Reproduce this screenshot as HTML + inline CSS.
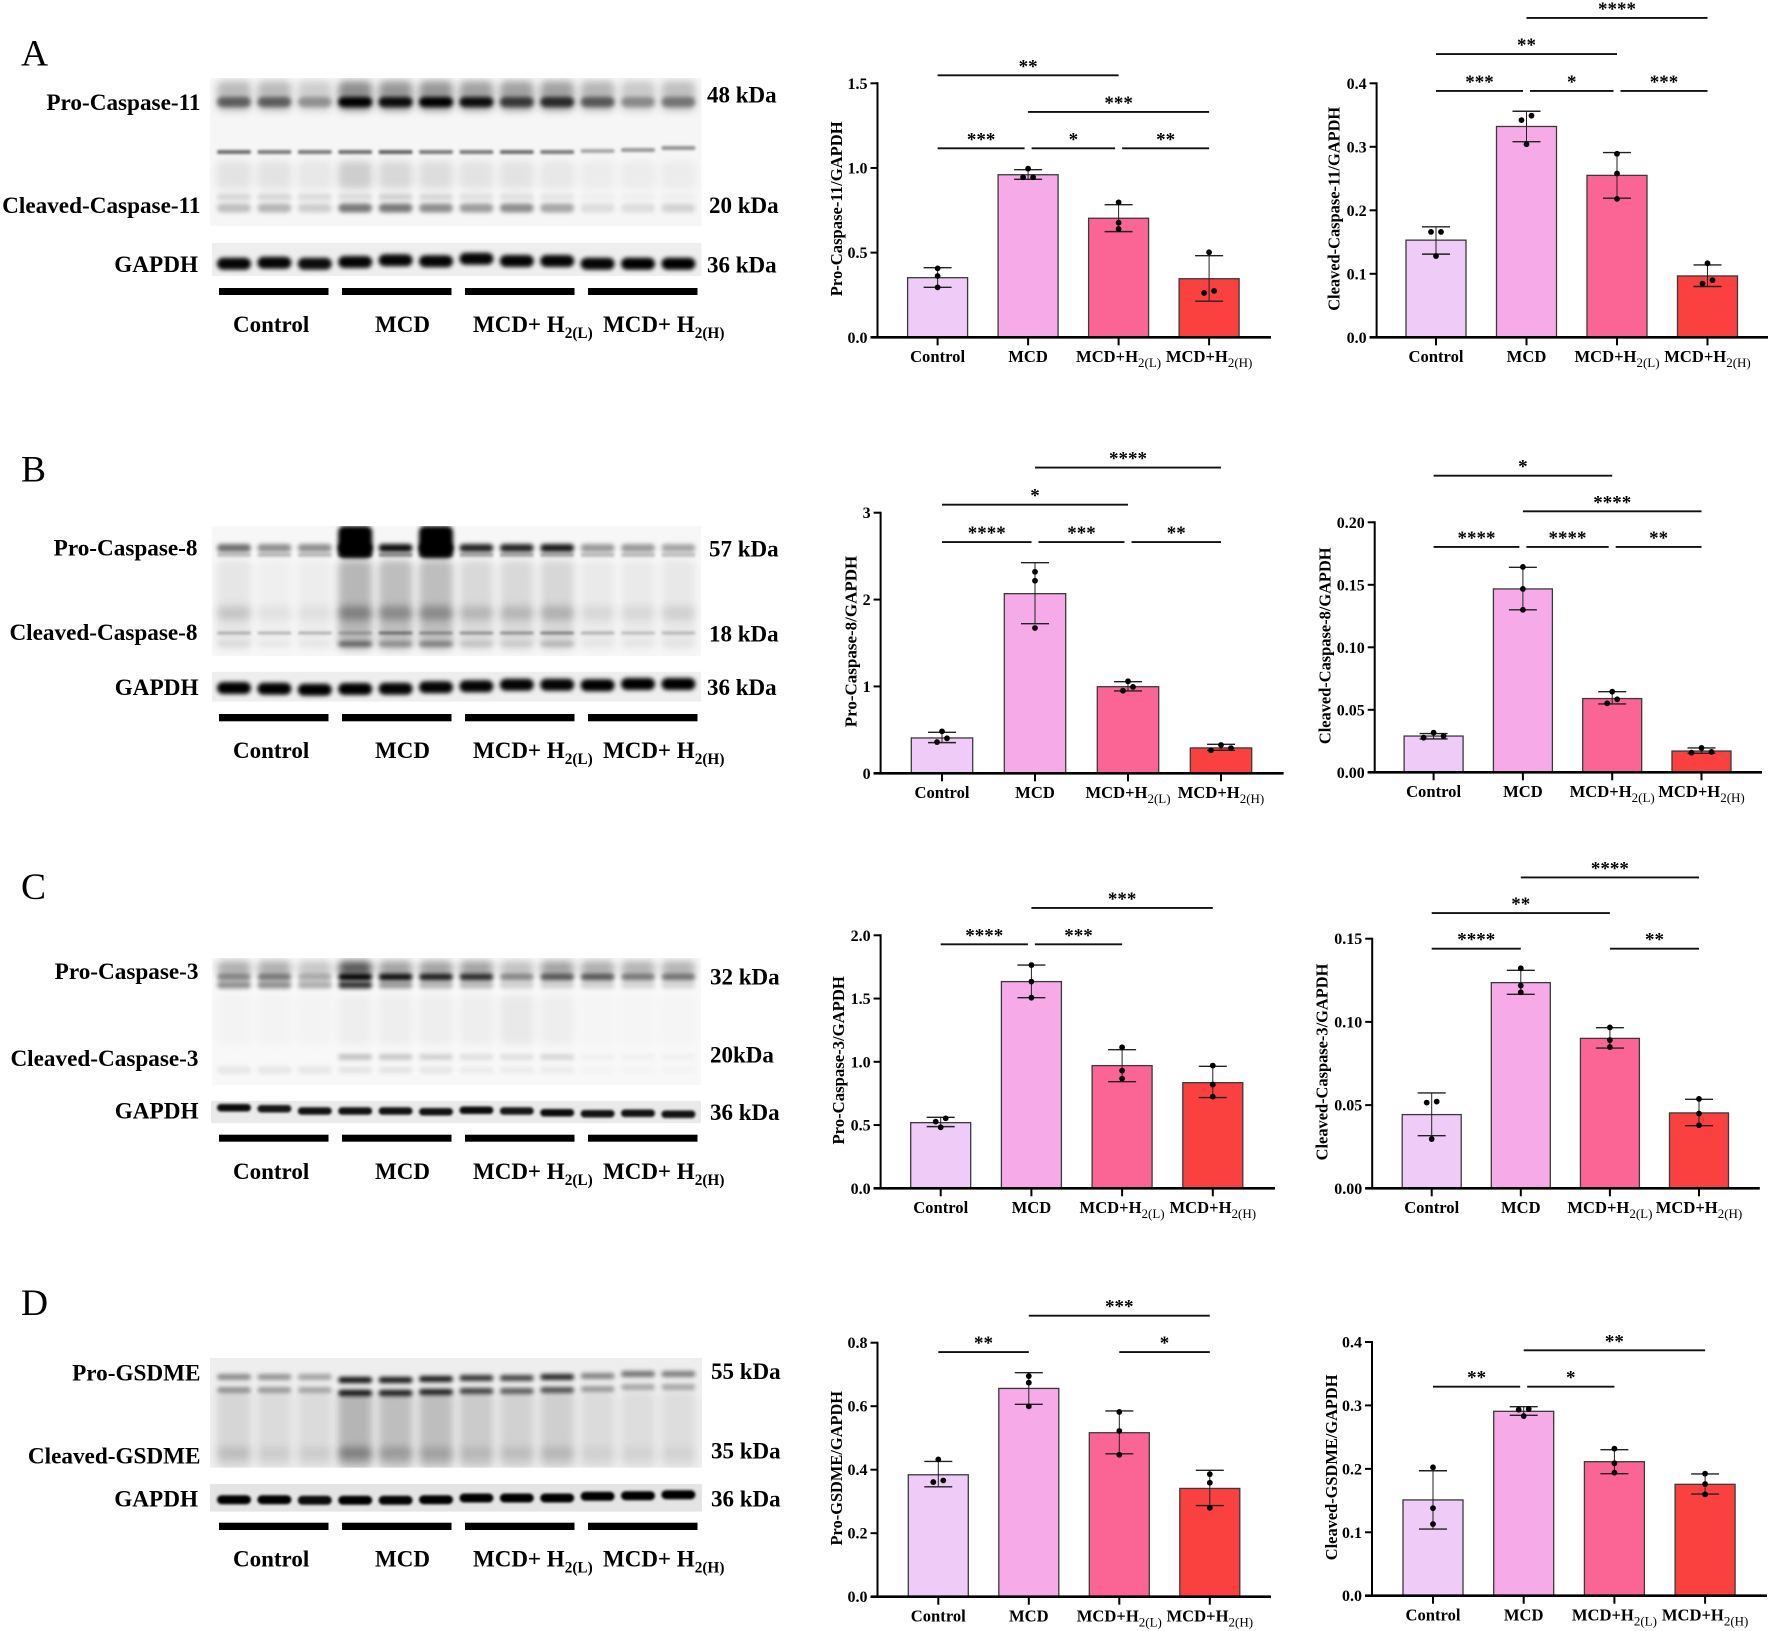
<!DOCTYPE html>
<html lang="en">
<head>
<meta charset="utf-8">
<title>Caspase and GSDME western blots with densitometry</title>
<style>
html,body{margin:0;padding:0;background:#fff;}
svg{display:block;}
text{font-family:"Liberation Serif",serif;fill:#000;}
.lab{font-size:23px;font-weight:bold;}
.lab[text-anchor="end"]{font-size:23.2px;}
.sub{font-size:15.3px;font-weight:bold;}
.letter{font-size:37.5px;font-weight:normal;}
</style>
</head>
<body>
<svg id="fig" xmlns="http://www.w3.org/2000/svg" width="1772" height="1631" viewBox="0 0 1772 1631">
<defs>
<filter id="b1" x="-30%" y="-100%" width="160%" height="300%"><feGaussianBlur stdDeviation="1.2"/></filter>
<filter id="b2" x="-30%" y="-150%" width="160%" height="400%"><feGaussianBlur stdDeviation="2.2"/></filter>
<filter id="b4" x="-40%" y="-100%" width="180%" height="300%"><feGaussianBlur stdDeviation="4"/></filter>
</defs>
<rect width="1772" height="1631" fill="#fff"/>

<g id="blots"></g>
<g id="plots"></g>

<g>
<text class="letter" x="21" y="65.7">A</text>
<text class="lab" x="200.5" y="110" text-anchor="end">Pro-Caspase-11</text>
<text class="lab" x="200.5" y="213" text-anchor="end">Cleaved-Caspase-11</text>
<text class="lab" x="198" y="272" text-anchor="end">GAPDH</text>
<text class="lab" x="707" y="102.7">48 kDa</text>
<text class="lab" x="709" y="213">20 kDa</text>
<text class="lab" x="707" y="272.7">36 kDa</text>
<text class="lab" x="233" y="332">Control</text>
<text class="lab" x="375" y="332">MCD</text>
<text class="lab" x="473" y="332">MCD+ H<tspan class="sub" dy="6">2(L)</tspan></text>
<text class="lab" x="603" y="332">MCD+ H<tspan class="sub" dy="6">2(H)</tspan></text>
</g>

<g>
<text class="letter" x="21" y="481.7">B</text>
<text class="lab" x="197.5" y="555.7" text-anchor="end">Pro-Caspase-8</text>
<text class="lab" x="197.5" y="640" text-anchor="end">Cleaved-Caspase-8</text>
<text class="lab" x="198.5" y="695" text-anchor="end">GAPDH</text>
<text class="lab" x="709" y="556.7">57 kDa</text>
<text class="lab" x="709" y="641.7">18 kDa</text>
<text class="lab" x="707" y="695">36 kDa</text>
<text class="lab" x="233" y="758">Control</text>
<text class="lab" x="375" y="758">MCD</text>
<text class="lab" x="473" y="758">MCD+ H<tspan class="sub" dy="6">2(L)</tspan></text>
<text class="lab" x="603" y="758">MCD+ H<tspan class="sub" dy="6">2(H)</tspan></text>
</g>

<g>
<text class="letter" x="21" y="899">C</text>
<text class="lab" x="198.5" y="979" text-anchor="end">Pro-Caspase-3</text>
<text class="lab" x="198.5" y="1066" text-anchor="end">Cleaved-Caspase-3</text>
<text class="lab" x="198.5" y="1118.3" text-anchor="end">GAPDH</text>
<text class="lab" x="710" y="984.3">32 kDa</text>
<text class="lab" x="710" y="1062.3">20kDa</text>
<text class="lab" x="710" y="1120">36 kDa</text>
<text class="lab" x="233" y="1179">Control</text>
<text class="lab" x="375" y="1179">MCD</text>
<text class="lab" x="473" y="1179">MCD+ H<tspan class="sub" dy="6">2(L)</tspan></text>
<text class="lab" x="603" y="1179">MCD+ H<tspan class="sub" dy="6">2(H)</tspan></text>
</g>

<g>
<text class="letter" x="21" y="1315">D</text>
<text class="lab" x="200.5" y="1380.7" text-anchor="end">Pro-GSDME</text>
<text class="lab" x="200.5" y="1463.3" text-anchor="end">Cleaved-GSDME</text>
<text class="lab" x="198" y="1506.7" text-anchor="end">GAPDH</text>
<text class="lab" x="711" y="1379">55 kDa</text>
<text class="lab" x="711" y="1458.3">35 kDa</text>
<text class="lab" x="711" y="1506.7">36 kDa</text>
<text class="lab" x="233" y="1566.7">Control</text>
<text class="lab" x="375" y="1566.7">MCD</text>
<text class="lab" x="473" y="1566.7">MCD+ H<tspan class="sub" dy="6">2(L)</tspan></text>
<text class="lab" x="603" y="1566.7">MCD+ H<tspan class="sub" dy="6">2(H)</tspan></text>
</g>
</svg>

<script>
/* ---------- shared categories ---------- */
const categories = ['Control', 'MCD', 'MCD+H', 'MCD+H'];
const categorySubs = ['', '', '2(L)', '2(H)'];
const barColors = ['#EFCBF8', '#F6ABE8', '#FB6596', '#FB4040'];

/* ---------- Pro-Caspase-11 ---------- */
const proCasp11Means = [0.352, 0.96, 0.703, 0.346];
const proCasp11Upper = [0.411, 0.99, 0.783, 0.482];
const proCasp11Lower = [0.295, 0.933, 0.624, 0.213];
const proCasp11Dots = [[0.407, 0.362, 0.295], [0.996, 0.945, 0.945], [0.797, 0.677, 0.64], [0.502, 0.274, 0.262]];
const proCasp11Ticks = [0, 0.5, 1, 1.5];
const proCasp11TickLabels = ['0.0', '0.5', '1.0', '1.5'];
const proCasp11Sig = [[0, 2, 1.547, '**'], [1, 3, 1.331, '***'], [0, 1, 1.116, '***'], [1, 2, 1.116, '*'], [2, 3, 1.116, '**']];

/* ---------- Cleaved-Caspase-11 ---------- */
const clCasp11Means = [0.153, 0.332, 0.255, 0.0966];
const clCasp11Upper = [0.174, 0.356, 0.291, 0.114];
const clCasp11Lower = [0.131, 0.308, 0.219, 0.08];
const clCasp11Dots = [[0.166, 0.166, 0.128], [0.349, 0.342, 0.304], [0.289, 0.258, 0.218], [0.1165, 0.09, 0.0845]];
const clCasp11Ticks = [0, 0.1, 0.2, 0.3, 0.4];
const clCasp11TickLabels = ['0.0', '0.1', '0.2', '0.3', '0.4'];
const clCasp11Sig = [[1, 3, 0.503, '****'], [0, 2, 0.446, '**'], [0, 1, 0.388, '***'], [1, 2, 0.388, '*'], [2, 3, 0.388, '***']];

/* ---------- Pro-Caspase-8 ---------- */
const proCasp8Means = [0.407, 2.068, 0.997, 0.292];
const proCasp8Upper = [0.472, 2.425, 1.055, 0.334];
const proCasp8Lower = [0.353, 1.722, 0.948, 0.265];
const proCasp8Dots = [[0.483, 0.403, 0.36], [2.32, 2.217, 1.673], [1.059, 0.994, 0.951], [0.326, 0.29, 0.265]];
const proCasp8Ticks = [0, 1, 2, 3];
const proCasp8TickLabels = ['0', '1', '2', '3'];
const proCasp8Sig = [[1, 3, 3.52, '****'], [0, 2, 3.092, '*'], [0, 1, 2.662, '****'], [1, 2, 2.662, '***'], [2, 3, 2.662, '**']];

/* ---------- Cleaved-Caspase-8 ---------- */
const clCasp8Means = [0.029, 0.1467, 0.059, 0.017];
const clCasp8Upper = [0.031, 0.164, 0.0645, 0.0195];
const clCasp8Lower = [0.0267, 0.13, 0.0547, 0.0152];
const clCasp8Dots = [[0.0317, 0.029, 0.0277], [0.1643, 0.1467, 0.13], [0.0645, 0.0584, 0.0552], [0.0195, 0.0163, 0.0157]];
const clCasp8Ticks = [0, 0.05, 0.1, 0.15, 0.2];
const clCasp8TickLabels = ['0.00', '0.05', '0.10', '0.15', '0.20'];
const clCasp8Sig = [[0, 2, 0.2373, '*'], [1, 3, 0.2088, '****'], [0, 1, 0.1803, '****'], [1, 2, 0.1803, '****'], [2, 3, 0.1803, '**']];

/* ---------- Pro-Caspase-3 ---------- */
const proCasp3Means = [0.519, 1.634, 0.97, 0.835];
const proCasp3Upper = [0.561, 1.765, 1.096, 0.964];
const proCasp3Lower = [0.4875, 1.507, 0.843, 0.717];
const proCasp3Dots = [[0.553, 0.527, 0.482], [1.765, 1.634, 1.507], [1.115, 0.93, 0.867], [0.97, 0.82, 0.725]];
const proCasp3Ticks = [0, 0.5, 1, 1.5, 2];
const proCasp3TickLabels = ['0.0', '0.5', '1.0', '1.5', '2.0'];
const proCasp3Sig = [[1, 3, 2.216, '***'], [0, 1, 1.929, '****'], [1, 2, 1.929, '***']];

/* ---------- Cleaved-Caspase-3 ---------- */
const clCasp3Means = [0.0443, 0.1236, 0.0901, 0.0453];
const clCasp3Upper = [0.0573, 0.131, 0.0965, 0.0535];
const clCasp3Lower = [0.0316, 0.1166, 0.0843, 0.0376];
const clCasp3Dots = [[0.0521, 0.0515, 0.0296], [0.1322, 0.1218, 0.1178], [0.0967, 0.0891, 0.0849], [0.0537, 0.0449, 0.0379]];
const clCasp3Ticks = [0, 0.05, 0.1, 0.15];
const clCasp3TickLabels = ['0.00', '0.05', '0.10', '0.15'];
const clCasp3Sig = [[1, 3, 0.1868, '****'], [0, 2, 0.1654, '**'], [0, 1, 0.144, '****'], [2, 3, 0.144, '**']];

/* ---------- Pro-GSDME ---------- */
const proGsdmeMeans = [0.384, 0.656, 0.5165, 0.341];
const proGsdmeUpper = [0.426, 0.7055, 0.585, 0.398];
const proGsdmeLower = [0.346, 0.606, 0.45, 0.287];
const proGsdmeDots = [[0.4325, 0.366, 0.361], [0.695, 0.674, 0.5995], [0.582, 0.522, 0.447], [0.386, 0.359, 0.28]];
const proGsdmeTicks = [0, 0.2, 0.4, 0.6, 0.8];
const proGsdmeTickLabels = ['0.0', '0.2', '0.4', '0.6', '0.8'];
const proGsdmeSig = [[1, 3, 0.885, '***'], [0, 1, 0.7706, '**'], [2, 3, 0.7706, '*']];

/* ---------- Cleaved-GSDME ---------- */
const clGsdmeMeans = [0.151, 0.2907, 0.2113, 0.1756];
const clGsdmeUpper = [0.197, 0.298, 0.2302, 0.1919];
const clGsdmeLower = [0.105, 0.2844, 0.1924, 0.1603];
const clGsdmeDots = [[0.2024, 0.138, 0.113], [0.2943, 0.2933, 0.2833], [0.2318, 0.2087, 0.194], [0.1924, 0.176, 0.1598]];
const clGsdmeTicks = [0, 0.1, 0.2, 0.3, 0.4];
const clGsdmeTickLabels = ['0.0', '0.1', '0.2', '0.3', '0.4'];
const clGsdmeSig = [[1, 3, 0.3869, '**'], [0, 1, 0.3296, '**'], [1, 2, 0.3296, '*']];

/* ---------- blot band intensities (one per lane) ---------- */
const a11Smear = [.24,.24,.16,.42,.38,.38,.34,.34,.34,.26,.18,.22];
const a11Pro = [.5,.5,.3,1,.92,1,.92,.66,.75,.52,.32,.4];
const a11Mid = [.55,.5,.5,.55,.6,.5,.5,.55,.5,.32,.38,.4];
const a11Haze = [.08,.08,.06,.16,.12,.1,.08,.08,.06,.04,.04,.04];
const a11CleavedUp = [.14,.14,.12,.12,.16,.14,.1,.1,.08,.03,.03,.03];
const a11Cleaved = [.22,.26,.16,.5,.5,.42,.36,.42,.32,.1,.1,.14];
const gapdhA = [.98,.98,.95,.98,.98,.98,.98,.98,.98,.98,1,1];

const b8Huge = [0,0,0,1,0,1,0,0,0,0,0,0];
const b8Pro = [.55,.42,.42,1,.95,1,.85,.85,.9,.38,.38,.33];
const b8ProLow = [.2,.22,.22,.5,.4,.4,.3,.3,.3,.22,.22,.2];
const b8Smear = [.07,.03,.04,.26,.23,.23,.12,.12,.13,.05,.05,.06];
const b8Lower = [.14,.06,.06,.3,.28,.28,.16,.16,.18,.08,.08,.1];
const b8Cleaved = [.25,.25,.25,.22,.45,.32,.34,.34,.4,.25,.2,.22];
const b8Bottom = [.06,.03,.03,.5,.3,.38,.12,.08,.18,.02,.02,.02];
const gapdhB = [1,1,1,1,.98,.98,.98,.98,.98,1,1,1];

const c3Top = [.3,.3,.2,.65,.35,.35,.35,.22,.35,.3,.28,.28];
const c3Pro = [.42,.48,.28,1,.95,.88,.82,.42,.62,.62,.48,.5];
const c3Low = [.42,.42,.3,.8,.38,.28,.25,.16,.16,.16,.14,.14];
const c3Cleaved = [0,0,0,.22,.2,.16,.1,.1,.14,.03,.03,.03];
const c3Bottom = [.07,.07,.07,.08,.08,.07,.05,.05,.05,.02,.02,.02];
const c3Haze = [.02,.02,.02,.04,.04,.04,.04,.06,.04,.01,.01,.01];
const gapdhC = [.95,.9,.92,.92,.92,.92,.95,.9,.95,.92,.92,.92];

const dUpper = [.42,.38,.32,.95,.92,.92,.8,.72,.85,.45,.52,.48];
const dLower = [.38,.35,.3,.92,.88,.88,.72,.6,.66,.35,.3,.3];
const dSmear = [.1,.08,.08,.24,.2,.2,.15,.12,.13,.08,.07,.07];
const dCleaved = [.12,.07,.07,.3,.2,.16,.1,.1,.12,.05,.05,.05];
const gapdhD = [1,1,.95,1,.98,1,1,1,1,1,1,1];

/* ---------- per-lane gel drift, in pixels ---------- */
const noDrift = [0,0,0,0,0,0,0,0,0,0,0,0];
const driftA11Mid = [0,0,0,0,0,0,0,0,0,-1,-2,-4];
const driftGapdhA = [1.7,.7,1.7,0,-1.7,-.7,-3.3,-1,-1,1.7,1.7,1.7];
const driftGapdhB = [0,.7,1.7,1,.7,-.7,-1.7,-3.3,-3.3,-2.7,-4,-4];
const driftGapdhC = [-3.3,-2.3,0,0,0,.7,-.7,0,1.7,2.7,2.3,3.3];
const driftProD = [0,0,0,3,3,2,1,1,0,-1,-3,-3];
const driftGapdhD = [.7,.7,1.3,1.3,1.3,.7,-1,-1,-1,-2.7,-3.3,-4.3];

/* ---------- helpers ---------- */
const NS = 'http://www.w3.org/2000/svg';
const blotRoot = document.getElementById('blots');
const plotRoot = document.getElementById('plots');

function mk(tag, attrs, parent) {
  const el = document.createElementNS(NS, tag);
  for (const k in attrs) el.setAttribute(k, attrs[k]);
  if (parent) parent.appendChild(el);
  return el;
}

/* ---------- blots ---------- */
function laneX(i) { return 234 + i * 40.4; }
const laneWidth = 34;
let clipCount = 0;

function blotFrame(name, x, y, w, h, bg) {
  clipCount++;
  const clip = mk('clipPath', { id: 'clip' + clipCount }, blotRoot);
  mk('rect', { x: x, y: y, width: w, height: h }, clip);
  const g = mk('g', { 'clip-path': 'url(#clip' + clipCount + ')' }, blotRoot);
  
  
  const r = mk('rect', { x: x, y: y, width: w, height: h, fill: bg }, g);
  
  
  return g;
}

function band(parent, cy, h, blur, levels, name, drift) {
  const shift = drift || noDrift;
  levels.forEach(function (v, i) {
    if (v <= 0) return;
    const r = mk('rect', {
      x: laneX(i) - laneWidth / 2, y: cy + shift[i] - h / 2, width: laneWidth, height: h,
      rx: Math.min(h / 2, 6), fill: '#000', 'fill-opacity': v, filter: 'url(#b' + blur + ')'
    }, parent);
    
    
  });
}

function groupBars(y, h, name) {
  [219, 342, 465, 588].forEach(function (x, i) {
    const r = mk('rect', { x: x, y: y, width: 109.5, height: h, fill: '#000' }, blotRoot);
    
    
  });
}

const blotA = blotFrame('blot-caspase-11', 210, 78, 491.5, 148, '#f6f6f6');
band(blotA, 96, 30, 4, a11Smear, 'casp11-smear');
band(blotA, 102, 10, 2, a11Pro, 'pro-caspase-11-band');
band(blotA, 152, 4, 1, a11Mid, 'casp11-middle-band', driftA11Mid);
band(blotA, 175, 28, 4, a11Haze, 'casp11-haze');
band(blotA, 197, 6, 2, a11CleavedUp, 'casp11-upper-cleaved');
band(blotA, 208, 9, 2, a11Cleaved, 'cleaved-caspase-11-band');
const gapA = blotFrame('blot-gapdh-a', 212, 243, 489.5, 33, '#eeeeee');
band(gapA, 262, 12, 2, gapdhA, 'gapdh-a-band', driftGapdhA);
groupBars(288, 7, 'a');

const blotB = blotFrame('blot-caspase-8', 211.7, 526, 489.3, 130, '#f7f7f7');
band(blotB, 542, 32, 2, b8Huge, 'pro-caspase-8-overload');
band(blotB, 548, 8, 2, b8Pro, 'pro-caspase-8-band');
band(blotB, 555, 4, 1, b8ProLow, 'pro-caspase-8-lower');
band(blotB, 605, 90, 4, b8Smear, 'casp8-smear');
band(blotB, 613, 14, 4, b8Lower, 'casp8-lower-band');
band(blotB, 633, 3, 1, b8Cleaved, 'cleaved-caspase-8-band');
band(blotB, 644, 5, 2, b8Bottom, 'casp8-bottom-band');
const gapB = blotFrame('blot-gapdh-b', 212, 671.7, 489, 30, '#eeeeee');
band(gapB, 688, 12, 2, gapdhB, 'gapdh-b-band', driftGapdhB);
groupBars(714, 7.3, 'b');

const blotC = blotFrame('blot-caspase-3', 211.7, 958, 489.3, 127, '#f8f8f8');
band(blotC, 968, 14, 4, c3Top, 'casp3-upper-smear');
band(blotC, 977, 7, 2, c3Pro, 'pro-caspase-3-band');
band(blotC, 985, 7, 2, c3Low, 'pro-caspase-3-lower');
band(blotC, 1020, 50, 4, c3Haze, 'casp3-haze');
band(blotC, 1057, 6, 2, c3Cleaved, 'cleaved-caspase-3-band');
band(blotC, 1070, 7, 2, c3Bottom, 'casp3-bottom-band');
const gapC = blotFrame('blot-gapdh-c', 211, 1100.7, 490, 22.6, '#eaeaea');
band(gapC, 1111, 7.5, 1, gapdhC, 'gapdh-c-band', driftGapdhC);
groupBars(1134.7, 7, 'c');

const blotD = blotFrame('blot-gsdme', 210, 1358, 492, 109.7, '#eeeeee');
band(blotD, 1430, 76, 4, dSmear, 'gsdme-smear');
band(blotD, 1377, 6, 2, dUpper, 'pro-gsdme-upper-band', driftProD);
band(blotD, 1390, 6, 2, dLower, 'pro-gsdme-lower-band', driftProD);
band(blotD, 1453, 12, 4, dCleaved, 'cleaved-gsdme-band');
const gapD = blotFrame('blot-gapdh-d', 210, 1484, 492, 27.7, '#e4e4e4');
band(gapD, 1499, 9, 1, gapdhD, 'gapdh-d-band', driftGapdhD);
groupBars(1522.7, 7.3, 'd');

/* ---------- bar charts ---------- */
function dotOffsets(ys) {
  const out = ys.map(function () { return 0; });
  const order = ys.map(function (y, i) { return i; }).sort(function (a, b) { return ys[a] - ys[b]; });
  let i = 0;
  while (i < order.length) {
    let j = i;
    while (j + 1 < order.length && ys[order[j + 1]] - ys[order[j]] < 5.5) j++;
    const size = j - i + 1;
    if (size === 2) { out[order[i]] = 5; out[order[j]] = -5; }
    if (size >= 3) { out[order[i]] = 0; out[order[i + 1]] = 10; out[order[i + 2]] = -10; }
    i = j + 1;
  }
  return out;
}

function drawPlot(p) {
  const g = mk('g', {}, plotRoot);
  
  
  const maxTick = Math.max.apply(null, p.ticks);
  const yScale = function (v) { return p.base - v / maxTick * (p.base - p.top); };
  const xScale = function (i) { return p.x0 + i * p.pitch; };

  p.means.forEach(function (m, i) {
    const bar = mk('rect', {
      x: xScale(i) - p.barW / 2, y: yScale(m), width: p.barW, height: p.base - yScale(m),
      fill: barColors[i], stroke: '#3a3a3a', 'stroke-width': 1.3
    }, g);
    
    
  });

  p.means.forEach(function (m, i) {
    const cx = xScale(i);
    const stem = mk('line', { x1: cx, x2: cx, y1: yScale(p.upper[i]), y2: yScale(p.lower[i]), stroke: '#222', 'stroke-width': 1 }, g);
    
    
    [p.upper[i], p.lower[i]].forEach(function (v) {
      const cap = mk('line', { x1: cx - 14, x2: cx + 14, y1: yScale(v), y2: yScale(v), stroke: '#222', 'stroke-width': 1.4 }, g);
      
      
    });
    const ys = p.dots[i].map(yScale);
    const off = dotOffsets(ys);
    ys.forEach(function (y, k) {
      const dot = mk('circle', { cx: cx + off[k], cy: y, r: 2.9, fill: '#000' }, g);
      
      
    });
  });

  const yAxis = mk('line', { x1: p.left, x2: p.left, y1: p.top - 1, y2: p.base, stroke: '#000', 'stroke-width': 2 }, g);
  
  
  const xAxis = mk('line', { x1: p.left - 7, x2: p.right, y1: p.base, y2: p.base, stroke: '#000', 'stroke-width': 2.6 }, g);
  
  

  p.ticks.forEach(function (t, i) {
    const y = yScale(t);
    const tick = mk('line', { x1: p.left - 7, x2: p.left, y1: y, y2: y, stroke: '#000', 'stroke-width': 2 }, g);
    
    
    const label = mk('text', { x: p.left - 10, y: y + 5.5, 'text-anchor': 'end', 'font-size': 16, 'font-weight': 'bold' }, g);
    
    
    label.textContent = p.tickLabels[i];
  });

  categories.forEach(function (c, i) {
    const cx = xScale(i);
    const tick = mk('line', { x1: cx, x2: cx, y1: p.base, y2: p.base + 8, stroke: '#000', 'stroke-width': 2 }, g);
    
    
    const label = mk('text', { x: cx, y: p.base + 24.8, 'text-anchor': 'middle', 'font-size': 16.6, 'font-weight': 'bold' }, g);
    
    
    label.appendChild(document.createTextNode(c));
    if (categorySubs[i]) {
      const s = mk('tspan', { dy: 5, 'font-size': 13, 'font-weight': 'normal' }, label);
      s.textContent = categorySubs[i];
    }
  });

  const cy = (p.top + p.base) / 2 - 1.5;
  const title = mk('text', {
    x: p.titleX, y: cy, 'text-anchor': 'middle', 'font-size': p.titleSize || 16.4, 'font-weight': 'bold',
    transform: 'rotate(-90 ' + p.titleX + ' ' + cy + ')'
  }, g);
  
  
  title.textContent = p.title;

  p.sig.forEach(function (b) {
    const from = b[0], to = b[1], level = b[2], stars = b[3];
    const y = yScale(level);
    const leftShared = p.sig.some(function (o) { return o !== b && o[2] === level && o[1] === from; });
    const rightShared = p.sig.some(function (o) { return o !== b && o[2] === level && o[0] === to; });
    const x1 = xScale(from) + (leftShared ? 3.5 : 0);
    const x2 = xScale(to) - (rightShared ? 3.5 : 0);
    const line = mk('line', { x1: x1, x2: x2, y1: y, y2: y, stroke: '#111', 'stroke-width': 1.9 }, g);
    
    
    const t = mk('text', { x: (x1 + x2) / 2, y: y - 3, 'text-anchor': 'middle', 'font-size': 19, 'font-weight': 'bold' }, g);
    
    
    t.textContent = stars;
  });
}

drawPlot({ name: 'pro-caspase-11', left: 877.5, base: 337.3, top: 83.3, right: 1271, x0: 937.6, pitch: 90.5, barW: 60, titleX: 842,
  title: 'Pro-Caspase-11/GAPDH', titleSize: 16.6, ticks: proCasp11Ticks, tickLabels: proCasp11TickLabels,
  means: proCasp11Means, upper: proCasp11Upper, lower: proCasp11Lower, dots: proCasp11Dots, sig: proCasp11Sig });
drawPlot({ name: 'cleaved-caspase-11', left: 1376.6, base: 337.3, top: 83.3, right: 1768, x0: 1436, pitch: 90.5, barW: 60, titleX: 1339.7,
  title: 'Cleaved-Caspase-11/GAPDH', ticks: clCasp11Ticks, tickLabels: clCasp11TickLabels,
  means: clCasp11Means, upper: clCasp11Upper, lower: clCasp11Lower, dots: clCasp11Dots, sig: clCasp11Sig });
drawPlot({ name: 'pro-caspase-8', left: 880.6, base: 773.3, top: 512.7, right: 1283.6, x0: 942, pitch: 93, barW: 61.4, titleX: 856.4,
  title: 'Pro-Caspase-8/GAPDH', titleSize: 17, ticks: proCasp8Ticks, tickLabels: proCasp8TickLabels,
  means: proCasp8Means, upper: proCasp8Upper, lower: proCasp8Lower, dots: proCasp8Dots, sig: proCasp8Sig });
drawPlot({ name: 'cleaved-caspase-8', left: 1374.7, base: 772.3, top: 522.3, right: 1762, x0: 1433.6, pitch: 89.3, barW: 59, titleX: 1330.7,
  title: 'Cleaved-Caspase-8/GAPDH', ticks: clCasp8Ticks, tickLabels: clCasp8TickLabels,
  means: clCasp8Means, upper: clCasp8Upper, lower: clCasp8Lower, dots: clCasp8Dots, sig: clCasp8Sig });
drawPlot({ name: 'pro-caspase-3', left: 880.6, base: 1188.3, top: 935.3, right: 1275, x0: 940.7, pitch: 90.7, barW: 60, titleX: 844,
  title: 'Pro-Caspase-3/GAPDH', titleSize: 16.7, ticks: proCasp3Ticks, tickLabels: proCasp3TickLabels,
  means: proCasp3Means, upper: proCasp3Upper, lower: proCasp3Lower, dots: proCasp3Dots, sig: proCasp3Sig });
drawPlot({ name: 'cleaved-caspase-3', left: 1372.2, base: 1188.3, top: 938.7, right: 1759.8, x0: 1431.7, pitch: 89.1, barW: 59, titleX: 1327.6,
  title: 'Cleaved-Caspase-3/GAPDH', ticks: clCasp3Ticks, tickLabels: clCasp3TickLabels,
  means: clCasp3Means, upper: clCasp3Upper, lower: clCasp3Lower, dots: clCasp3Dots, sig: clCasp3Sig });
drawPlot({ name: 'pro-gsdme', left: 877.5, base: 1596.7, top: 1342.7, right: 1271, x0: 938.3, pitch: 90.5, barW: 60, titleX: 842,
  title: 'Pro-GSDME/GAPDH', ticks: proGsdmeTicks, tickLabels: proGsdmeTickLabels,
  means: proGsdmeMeans, upper: proGsdmeUpper, lower: proGsdmeLower, dots: proGsdmeDots, sig: proGsdmeSig });
drawPlot({ name: 'cleaved-gsdme', left: 1372, base: 1595.7, top: 1342, right: 1767, x0: 1433, pitch: 90.7, barW: 60, titleX: 1337,
  title: 'Cleaved-GSDME/GAPDH', ticks: clGsdmeTicks, tickLabels: clGsdmeTickLabels,
  means: clGsdmeMeans, upper: clGsdmeUpper, lower: clGsdmeLower, dots: clGsdmeDots, sig: clGsdmeSig });
</script>
</body>
</html>
